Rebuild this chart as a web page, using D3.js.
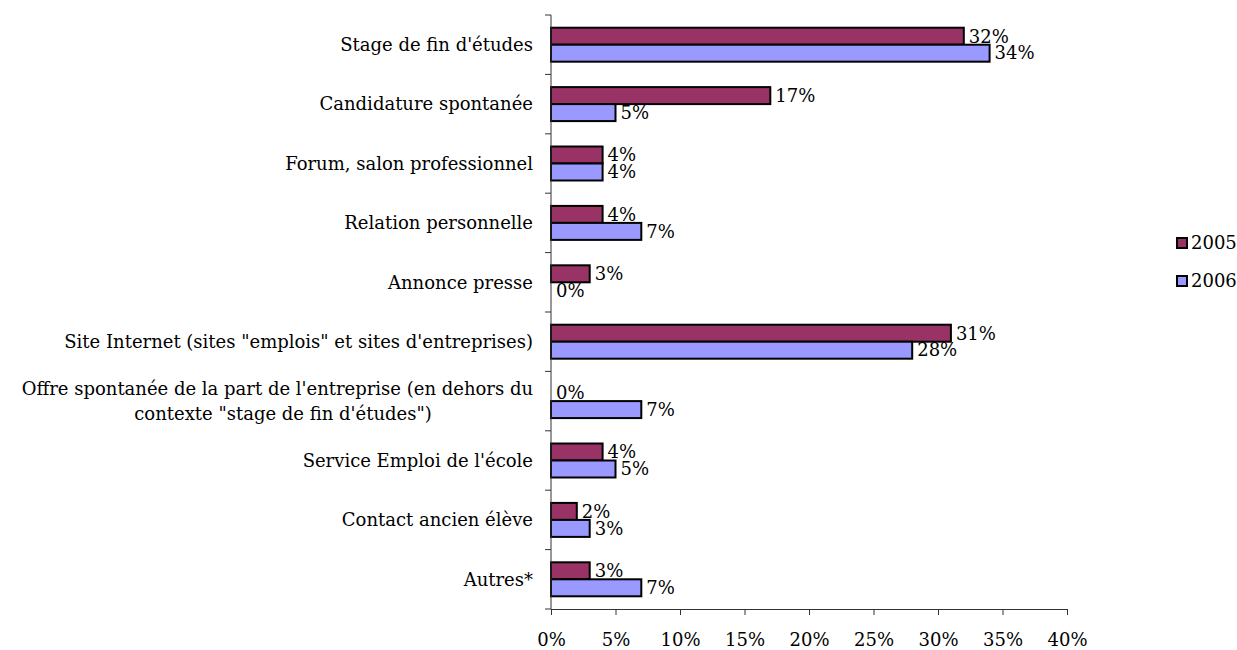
<!DOCTYPE html>
<html><head><meta charset="utf-8">
<script src="https://cdn.jsdelivr.net/npm/d3@7"></script>
<style>
body{margin:0;background:#fff;}
text{font-family:"DejaVu Serif",serif;fill:#000;}
</style></head>
<body><svg id="c" width="1237" height="650"></svg>
<script>
const categories = [
  "Stage de fin d'études",
  "Candidature spontanée",
  "Forum, salon professionnel",
  "Relation personnelle",
  "Annonce presse",
  "Site Internet (sites \"emplois\" et sites d'entreprises)",
  "Offre spontanée de la part de l'entreprise (en dehors du|contexte \"stage de fin d'études\")",
  "Service Emploi de l'école",
  "Contact ancien élève",
  "Autres*"
];
const seriesNames = ["2005", "2006"];
const values2005 = [32, 17, 4, 4, 3, 31, 0, 4, 2, 3];
const values2006 = [34, 5, 4, 7, 0, 28, 7, 5, 3, 7];
const xTicks = [0, 5, 10, 15, 20, 25, 30, 35, 40];
const colors = ["#993366", "#9999FF"];

(function () {
const svg = d3.select("#c");
const pL = 551, pR = 1067, pT = 15, pB = 609;
const fs = 18;
const ff = "DejaVu Serif";

const x = d3.scaleLinear().domain([0, 40]).range([pL, pR]);
const y = d3.scaleBand().domain(categories).range([pT, pB]);
const bw = y.bandwidth();
const barH = bw * 0.286;

const g = svg.append("g");
const series = [values2005, values2006];

categories.forEach((c, i) => {
  const y0 = y(c) + bw / 2 - barH;
  series.forEach((vals, s) => {
    const yy = y0 + s * barH;
    g.append("rect")
      .attr("x", x(0)).attr("y", yy)
      .attr("width", x(vals[i]) - x(0)).attr("height", barH)
      .attr("fill", colors[s]).attr("stroke", "#000").attr("stroke-width", 2);
    g.append("text")
      .attr("x", x(vals[i]) + 5).attr("y", yy + barH / 2)
      .attr("dy", "0.35em").attr("font-size", fs)
      .text(vals[i] + "%");
  });
});

// y axis
const yAxisG = svg.append("g").attr("transform", `translate(${pL},0)`);
yAxisG.append("line").attr("x1", 0).attr("x2", 0).attr("y1", pT).attr("y2", pB).attr("stroke", "#333").attr("stroke-width", 1);
d3.range(categories.length + 1).forEach(k => {
  const ty = pT + k * bw;
  yAxisG.append("line").attr("x1", -6).attr("x2", 0).attr("y1", ty).attr("y2", ty).attr("stroke", "#333");
});
categories.forEach(c => {
  const lines = c.split("|");
  const cy = y(c) + bw / 2;
  const t = svg.append("text").attr("font-size", fs);
  if (lines.length === 1) {
    t.append("tspan").attr("text-anchor", "end").attr("x", 533).attr("y", cy).attr("dy", "0.35em").text(lines[0]);
  } else {
    t.append("tspan").attr("text-anchor", "end").attr("x", 533).attr("y", cy - 12.5).attr("dy", "0.35em").text(lines[0]);
    t.append("tspan").attr("text-anchor", "middle").attr("x", 283).attr("y", cy + 12.5).attr("dy", "0.35em").text(lines[1]);
  }
});

// x axis
const xAxis = d3.axisBottom(x).tickValues(xTicks).tickFormat(d => d + "%").tickSize(6).tickSizeOuter(0).tickPadding(18);
const xg = svg.append("g").attr("transform", `translate(0,${pB})`).call(xAxis);
xg.select(".domain").attr("stroke", "#333");
xg.selectAll(".tick line").attr("stroke", "#333");
xg.selectAll(".tick text").attr("font-size", fs).attr("font-family", ff).attr("fill", "#000");

// legend
const lg = svg.append("g");
seriesNames.forEach((n, s) => {
  const ly = 243 + s * 38;
  lg.append("rect").attr("x", 1177).attr("y", ly - 5).attr("width", 10).attr("height", 10)
    .attr("fill", colors[s]).attr("stroke", "#000").attr("stroke-width", 2);
  lg.append("text").attr("x", 1191).attr("y", ly).attr("dy", "0.35em").attr("font-size", fs).text(n);
});
})();
</script></body></html>
